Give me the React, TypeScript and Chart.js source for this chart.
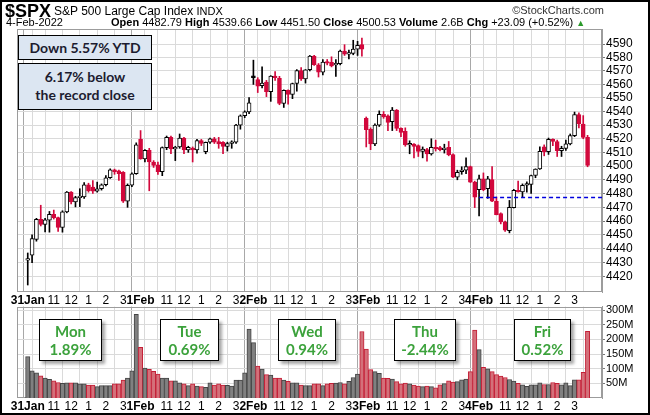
import React, { useEffect, useRef } from 'react';
import { Chart, registerables } from 'chart.js';
Chart.register(...registerables);

const FONT = '"Liberation Sans", Arial, Helvetica, sans-serif';
const BOX_FONT = 'Lato, "Open Sans", sans-serif';

// ---- axis / label constants ----
const DAY_LABELS = ['31Jan', '1Feb', '2Feb', '3Feb', '4Feb'];
const BARS_PER_DAY = 26;
const HOUR_OFFSETS = [2, 6, 10, 14, 18, 22];
const HOUR_LABELS = ['', '11', '12', '1', '2', '3'];
const PRICE_TICKS = [4420, 4430, 4440, 4450, 4460, 4470, 4480, 4490, 4500, 4510, 4520, 4530, 4540, 4550, 4560, 4570, 4580, 4590];
const VOLUME_TICKS = [50, 100, 150, 200, 250, 300];
const PREV_SESSION_CLOSE = 4431.85;
const PRIOR_DAY_CLOSE = 4477.44;
const WEEKDAYS = ['Mon', 'Tue', 'Wed', 'Thu', 'Fri'];
const DAY_CHANGES = ['1.89%', '0.69%', '0.94%', '-2.44%', '0.52%'];

// ---- 15-minute OHLC (31 Jan - 4 Feb 2022) ----
const OPEN = [
  4431.8, 4435.4, 4446.7, 4461.2, 4457.6, 4460.6, 4465, 4462.5, 4455.4, 4466.7, 4481, 4473.9, 4477, 4477.5, 4486.4, 4484.7, 4481.8, 4483.5, 4486.4, 4491.5, 4497.3, 4496.5, 4495.5, 4474.4, 4486, 4494.4,
  4519.6, 4505.3, 4511.5, 4503, 4501, 4496, 4513.5, 4521, 4512.5, 4514, 4520.5, 4511.8, 4513.2, 4511.8, 4518.6, 4510.5, 4517.4, 4520, 4518, 4517.4, 4514.4, 4516.5, 4517.4, 4530, 4536.9, 4539.8,
  4566.4, 4563.6, 4559, 4561.7, 4554.6, 4566, 4564.5, 4545.9, 4555.6, 4552.7, 4560.7, 4570.2, 4564.1, 4570.9, 4581.1, 4574.6, 4569, 4577, 4576.3, 4574.5, 4575.3, 4584.8, 4582.4, 4583, 4586.2, 4589.6,
  4535, 4527, 4516.2, 4530, 4538, 4536.8, 4532.5, 4541, 4527.6, 4525.5, 4515.4, 4516, 4515, 4510.8, 4512, 4508.9, 4513.7, 4513.5, 4512, 4513.7, 4508.4, 4492, 4496, 4497, 4499.6, 4488.3,
  4482.8, 4490.7, 4483.5, 4490.2, 4474.4, 4465.5, 4459.5, 4453, 4469.8, 4482, 4481.1, 4486, 4486.6, 4493.1, 4498, 4514, 4510.5, 4519.5, 4518, 4511.3, 4513, 4516.2, 4522.3, 4537.8, 4530.8, 4521,
];
const HIGH = [
  4437, 4450, 4462, 4471.5, 4462, 4467, 4468, 4463, 4467.5, 4481.5, 4481.5, 4478, 4483.5, 4488, 4487.5, 4489.5, 4488.3, 4487, 4493, 4498, 4497.8, 4497, 4496, 4487, 4495, 4517,
  4526, 4512, 4513, 4504, 4503, 4514, 4522, 4522, 4514.5, 4523.5, 4521, 4514.5, 4514, 4519.5, 4519.5, 4517.6, 4520.5, 4521, 4521, 4518, 4517.5, 4518.5, 4530.5, 4537.5, 4540.5, 4550.3,
  4578, 4565, 4573, 4563, 4566.5, 4569.5, 4566, 4556, 4556, 4561, 4571, 4572.5, 4571, 4581.5, 4581.5, 4575.5, 4578.5, 4578.5, 4580.5, 4578.5, 4585.5, 4589.5, 4585.5, 4592.8, 4592, 4594.5,
  4536, 4528, 4531, 4540.5, 4540, 4537.5, 4543, 4541.5, 4528, 4528, 4518.5, 4516.5, 4515.5, 4514, 4513, 4520, 4519, 4514.5, 4516, 4518, 4509, 4497, 4499.5, 4506, 4500, 4489,
  4493.5, 4495, 4492.5, 4499.6, 4477.5, 4466, 4460, 4475, 4483, 4489, 4487, 4488.5, 4493.5, 4498, 4514, 4515.5, 4520.5, 4520, 4519, 4514.5, 4519, 4523.5, 4539.6, 4539, 4537, 4522.5,
];
const LOW = [
  4414, 4430, 4445.5, 4456.5, 4452.2, 4452, 4461.5, 4452.5, 4452, 4466, 4472.5, 4470.3, 4470.5, 4476.5, 4481, 4480, 4481, 4482.5, 4485.5, 4491, 4494, 4489.5, 4473.5, 4470, 4485, 4494,
  4505, 4503, 4482, 4499, 4494, 4493, 4512, 4509, 4504, 4513, 4509, 4510, 4503, 4509.5, 4515, 4509, 4516.5, 4516.5, 4513, 4509, 4511, 4513, 4516.5, 4527, 4535.5, 4538.5,
  4560, 4554, 4557.5, 4551, 4547.5, 4563, 4545, 4543, 4545.4, 4549.5, 4555, 4563, 4561, 4570, 4574, 4565.5, 4567, 4574.5, 4573, 4566, 4574.5, 4581.5, 4579, 4582, 4581.5, 4581,
  4514, 4512, 4515, 4529, 4535, 4526, 4526, 4526, 4521.5, 4514.5, 4509, 4506, 4507, 4506, 4503.5, 4508, 4511, 4511, 4509.5, 4507.5, 4491.5, 4490, 4494, 4494.5, 4488, 4469.8,
  4463.8, 4482, 4476.5, 4474, 4464.5, 4458, 4452.5, 4451.5, 4469.5, 4481, 4477.5, 4481, 4480, 4491.5, 4497.5, 4507.5, 4508.5, 4515, 4507, 4507, 4511.5, 4515.5, 4521.5, 4528, 4520, 4499.5,
];
const CLOSE = [
  4432.4, 4447.4, 4461.2, 4457.6, 4461, 4465, 4462.5, 4455.4, 4466.7, 4481, 4473.9, 4477, 4478, 4486.4, 4482, 4481.8, 4483.5, 4486.4, 4491.5, 4497.3, 4496, 4494.5, 4474.4, 4486, 4494.4, 4515.5,
  4505.3, 4511.5, 4503, 4500.5, 4496, 4513.5, 4521, 4512.5, 4513.5, 4520.5, 4511.8, 4513.7, 4511.8, 4518.6, 4516.6, 4517.4, 4520, 4517.4, 4516.2, 4514.4, 4516.5, 4517, 4530, 4536.9, 4539.8, 4546.5,
  4565, 4558.7, 4561, 4554.6, 4566.1, 4565, 4545.9, 4555.6, 4552.7, 4560.7, 4570.2, 4564.1, 4570.9, 4581.1, 4574.6, 4569, 4576.5, 4575.8, 4573.8, 4575.3, 4584.8, 4582.4, 4583, 4586.2, 4589.1, 4586.2,
  4526.6, 4516.2, 4530, 4538, 4536, 4532, 4541, 4527.6, 4524.7, 4515.4, 4515.8, 4514.4, 4510.8, 4512.5, 4508.9, 4513.7, 4512.5, 4512, 4513, 4508.4, 4492, 4495.5, 4497, 4499.6, 4488.3, 4477.4,
  4490.7, 4482.8, 4490.7, 4474.4, 4464.7, 4459.5, 4453.4, 4470, 4482.3, 4481.2, 4485.9, 4486.8, 4493.1, 4497.9, 4510.8, 4510.5, 4519.5, 4518, 4511.3, 4513, 4516.2, 4522.3, 4537.8, 4530.8, 4521, 4500.5,
];
// volume in millions
const VOLUME = [
  141, 93, 86, 76, 68, 64, 59, 53, 50, 52, 52, 52, 48, 48, 44, 44, 39, 42, 42, 42, 48, 48, 61, 68, 93, 286,
  173, 102, 98, 91, 82, 68, 68, 59, 59, 52, 48, 42, 48, 41, 39, 36, 52, 44, 48, 44, 43, 41, 61, 61, 86, 235,
  189, 109, 99, 80, 78, 68, 68, 61, 57, 52, 52, 44, 42, 42, 48, 48, 42, 48, 50, 51, 53, 48, 57, 70, 82, 227,
  167, 97, 90, 84, 68, 67, 65, 56, 48, 51, 48, 44, 41, 39, 41, 39, 35, 45, 49, 59, 54, 56, 62, 65, 90, 232,
  165, 105, 100, 90, 80, 75, 70, 63, 58, 50, 45, 40, 45, 45, 52, 46, 46, 53, 50, 45, 52, 42, 62, 62, 88, 228,
];

const RED = '#d2083c';
const BLACK = '#000000';
const idx = OPEN.map((_, i) => i);
const prevClose = (i: number) => (i === 0 ? PREV_SESSION_CLOSE : CLOSE[i - 1]);
const isUp = (i: number) => CLOSE[i] >= prevClose(i);
const strokeOf = (i: number) => (isUp(i) ? BLACK : RED);

const X_TICKS: number[] = [];
const X_TICK_TEXT: Record<number, string> = {};
DAY_LABELS.forEach((d, di) => {
  X_TICKS.push(di * BARS_PER_DAY);
  X_TICK_TEXT[di * BARS_PER_DAY] = d;
  HOUR_OFFSETS.forEach((h, hi) => {
    X_TICKS.push(di * BARS_PER_DAY + h);
    X_TICK_TEXT[di * BARS_PER_DAY + h] = HOUR_LABELS[hi];
  });
});

const isDayTick = (v: number) => v % BARS_PER_DAY === 0;

function makeXScale(height: number) {
  return {
    type: 'linear',
    position: 'bottom',
    min: -0.55,
    max: 130.4,
    afterBuildTicks: (s: any) => {
      s.ticks = X_TICKS.map((v) => ({ value: v }));
    },
    afterFit: (s: any) => {
      s.height = height;
    },
    ticks: {
      autoSkip: false,
      maxRotation: 0,
      minRotation: 0,
      padding: 1,
      color: '#000',
      font: (ctx: any) => ({
        family: FONT,
        size: 12,
        weight: ctx.tick && isDayTick(ctx.tick.value) ? 'bold' : 'normal',
      }),
      callback: (v: any) => X_TICK_TEXT[v] ?? '',
    },
    grid: {
      color: (ctx: any) => (ctx.tick && isDayTick(ctx.tick.value) ? '#a8a8a8' : '#dadada'),
      drawTicks: false,
      lineWidth: 1,
    },
    border: { display: false },
  };
}

const framePlugin = {
  id: 'frame',
  beforeDatasetsDraw(chart: any) {
    const { ctx, chartArea: a } = chart;
    ctx.save();
    ctx.strokeStyle = '#9c9c9c';
    ctx.lineWidth = 1;
    ctx.strokeRect(Math.round(a.left) + 0.5, Math.round(a.top) + 0.5, Math.round(a.right - a.left) - 1, Math.round(a.bottom - a.top) - 1);
    ctx.restore();
  },
};

const priorClosePlugin = {
  id: 'priorClose',
  afterDatasetsDraw(chart: any) {
    const { ctx, chartArea: a, scales } = chart;
    const y = Math.round(scales.y.getPixelForValue(PRIOR_DAY_CLOSE)) + 0.5;
    const x0 = scales.x.getPixelForValue(4 * BARS_PER_DAY);
    ctx.save();
    ctx.strokeStyle = '#0000dd';
    ctx.lineWidth = 1.3;
    ctx.setLineDash([4, 3]);
    ctx.beginPath();
    ctx.moveTo(x0, y);
    ctx.lineTo(a.right, y);
    ctx.stroke();
    ctx.restore();
  },
};

export default function App() {
  const priceRef = useRef<HTMLCanvasElement>(null);
  const volRef = useRef<HTMLCanvasElement>(null);

  useEffect(() => {
    const price = new Chart(priceRef.current as HTMLCanvasElement, {
      type: 'bar',
      data: {
        datasets: [
          {
            label: 'body',
            data: idx.map((i) => ({ x: i, y: [OPEN[i], CLOSE[i]] })) as any,
            backgroundColor: idx.map((i) => (CLOSE[i] >= OPEN[i] ? '#ffffff' : strokeOf(i))),
            borderColor: idx.map((i) => strokeOf(i)),
            borderWidth: 1,
            borderSkipped: false,
            barThickness: 4,
            minBarLength: 1.6,
            grouped: false,
          } as any,
          {
            label: 'wick',
            data: idx.map((i) => ({ x: i, y: [LOW[i], HIGH[i]] })) as any,
            backgroundColor: idx.map((i) => strokeOf(i)),
            borderWidth: 0,
            barThickness: 1,
            grouped: false,
          } as any,
        ],
      },
      options: {
        animation: false,
        responsive: false,
        events: [],
        layout: { autoPadding: false, padding: { left: 17, top: 29, right: 0, bottom: 0 } },
        plugins: { legend: { display: false }, tooltip: { enabled: false } },
        scales: {
          x: makeXScale(14) as any,
          y: {
            type: 'logarithmic',
            position: 'right',
            min: 4409,
            max: 4601.2,
            afterBuildTicks: (s: any) => {
              s.ticks = PRICE_TICKS.map((v) => ({ value: v }));
            },
            afterFit: (s: any) => {
              s.width = 48;
            },
            ticks: {
              autoSkip: false,
              callback: (v: any) => String(v),
              font: { family: FONT, size: 12 },
              color: '#000',
              padding: 1,
            },
            grid: { color: '#dadada', tickLength: 3, tickColor: '#777' },
            border: { display: true, color: '#9c9c9c' },
          } as any,
        },
      },
      plugins: [framePlugin, priorClosePlugin],
    });

    const vol = new Chart(volRef.current as HTMLCanvasElement, {
      type: 'bar',
      data: {
        datasets: [
          {
            label: 'volume',
            data: idx.map((i) => ({ x: i, y: VOLUME[i] })) as any,
            backgroundColor: idx.map((i) => (isUp(i) ? '#808080' : '#d4707a')),
            borderColor: idx.map((i) => (isUp(i) ? '#444444' : '#c41e36')),
            borderWidth: 1,
            barPercentage: 1,
            categoryPercentage: 1,
          } as any,
        ],
      },
      options: {
        animation: false,
        responsive: false,
        events: [],
        layout: { autoPadding: false, padding: { left: 17, top: 6.7, right: 0, bottom: 0 } },
        plugins: { legend: { display: false }, tooltip: { enabled: false } },
        scales: {
          x: makeXScale(17) as any,
          y: {
            type: 'linear',
            position: 'right',
            min: 0,
            max: 312,
            afterBuildTicks: (s: any) => {
              s.ticks = VOLUME_TICKS.map((v) => ({ value: v }));
            },
            afterFit: (s: any) => {
              s.width = 48;
            },
            ticks: {
              autoSkip: false,
              callback: (v: any) => `${v}M`,
              font: { family: FONT, size: 11 },
              color: '#000',
              padding: 1,
            },
            grid: { color: '#dadada', tickLength: 3, tickColor: '#777' },
            border: { display: true, color: '#9c9c9c' },
          } as any,
        },
      },
      plugins: [framePlugin],
    });

    return () => {
      price.destroy();
      vol.destroy();
    };
  }, []);

  const noteLefts = [39, 160, 278, 394, 514];
  const noteWidths = [63, 59, 58, 62, 57];

  return (
    <div
      style={{
        position: 'fixed',
        left: 0,
        top: 0,
        width: 650,
        height: 415,
        background: '#fff',
        overflow: 'hidden',
        fontFamily: FONT,
        color: '#000',
      }}
    >
      <canvas ref={priceRef} width={650} height={306} style={{ position: 'absolute', left: 0, top: 0, width: 650, height: 306 }} />
      <canvas ref={volRef} width={650} height={116} style={{ position: 'absolute', left: 0, top: 299, width: 650, height: 116 }} />

      {/* header */}
      <div style={{ position: 'absolute', left: 5, top: 1, fontSize: 18, fontWeight: 'bold', whiteSpace: 'nowrap' }}>$SPX</div>
      <div style={{ position: 'absolute', left: 54, top: 4, fontSize: 12, whiteSpace: 'nowrap' }}>
        S&amp;P 500 Large Cap Index <span style={{ fontSize: 11 }}>INDX</span>
      </div>
      <div style={{ position: 'absolute', right: 46, top: 4, fontSize: 11, color: '#333', whiteSpace: 'nowrap' }}>©StockCharts.com</div>
      <div style={{ position: 'absolute', left: 6, top: 16, fontSize: 11, whiteSpace: 'nowrap' }}>4-Feb-2022</div>
      <div style={{ position: 'absolute', left: 111, top: 16, fontSize: 11, whiteSpace: 'nowrap' }}>
        <b>Open</b> 4482.79 <b>High</b> 4539.66 <b>Low</b> 4451.50 <b>Close</b> 4500.53 <b>Volume</b> 2.6B <b>Chg</b> +23.09 (+0.52%){' '}
        <span style={{ color: '#2a9a2a', fontSize: 9 }}>▲</span>
      </div>

      {/* price notes */}
      <div
        style={{
          position: 'absolute', left: 18, top: 35, width: 134, height: 25, boxSizing: 'border-box',
          background: '#dce6f2', border: '1px solid #000', fontFamily: BOX_FONT, fontWeight: 'bold',
          fontSize: 14, color: '#1c1c30', textAlign: 'center', lineHeight: '23px',
        }}
      >
        Down 5.57% YTD
      </div>
      <div
        style={{
          position: 'absolute', left: 18, top: 63, width: 134, height: 47, boxSizing: 'border-box',
          background: '#dce6f2', border: '1px solid #000', fontFamily: BOX_FONT, fontWeight: 'bold',
          fontSize: 14, color: '#1c1c30', textAlign: 'center', lineHeight: '18px', paddingTop: 4,
        }}
      >
        6.17% below
        <br />
        the record close
      </div>

      {/* daily change notes */}
      {WEEKDAYS.map((d, i) => (
        <div
          key={d}
          style={{
            position: 'absolute', left: noteLefts[i], top: 319, width: noteWidths[i], height: 42, boxSizing: 'border-box',
            background: '#fff', border: '1.5px solid #000', boxShadow: '3px 3px 3px rgba(0,0,0,0.35)',
            fontFamily: BOX_FONT, fontWeight: 'bold', fontSize: 15, color: '#3ca23c', textAlign: 'center',
            lineHeight: '18px', paddingTop: 2,
          }}
        >
          {d}
          <br />
          {DAY_CHANGES[i]}
        </div>
      ))}

      {/* outer frame */}
      <div style={{ position: 'absolute', left: 0, top: 0, width: 650, height: 415, boxSizing: 'border-box', border: '2px solid #000', pointerEvents: 'none' }} />
    </div>
  );
}
